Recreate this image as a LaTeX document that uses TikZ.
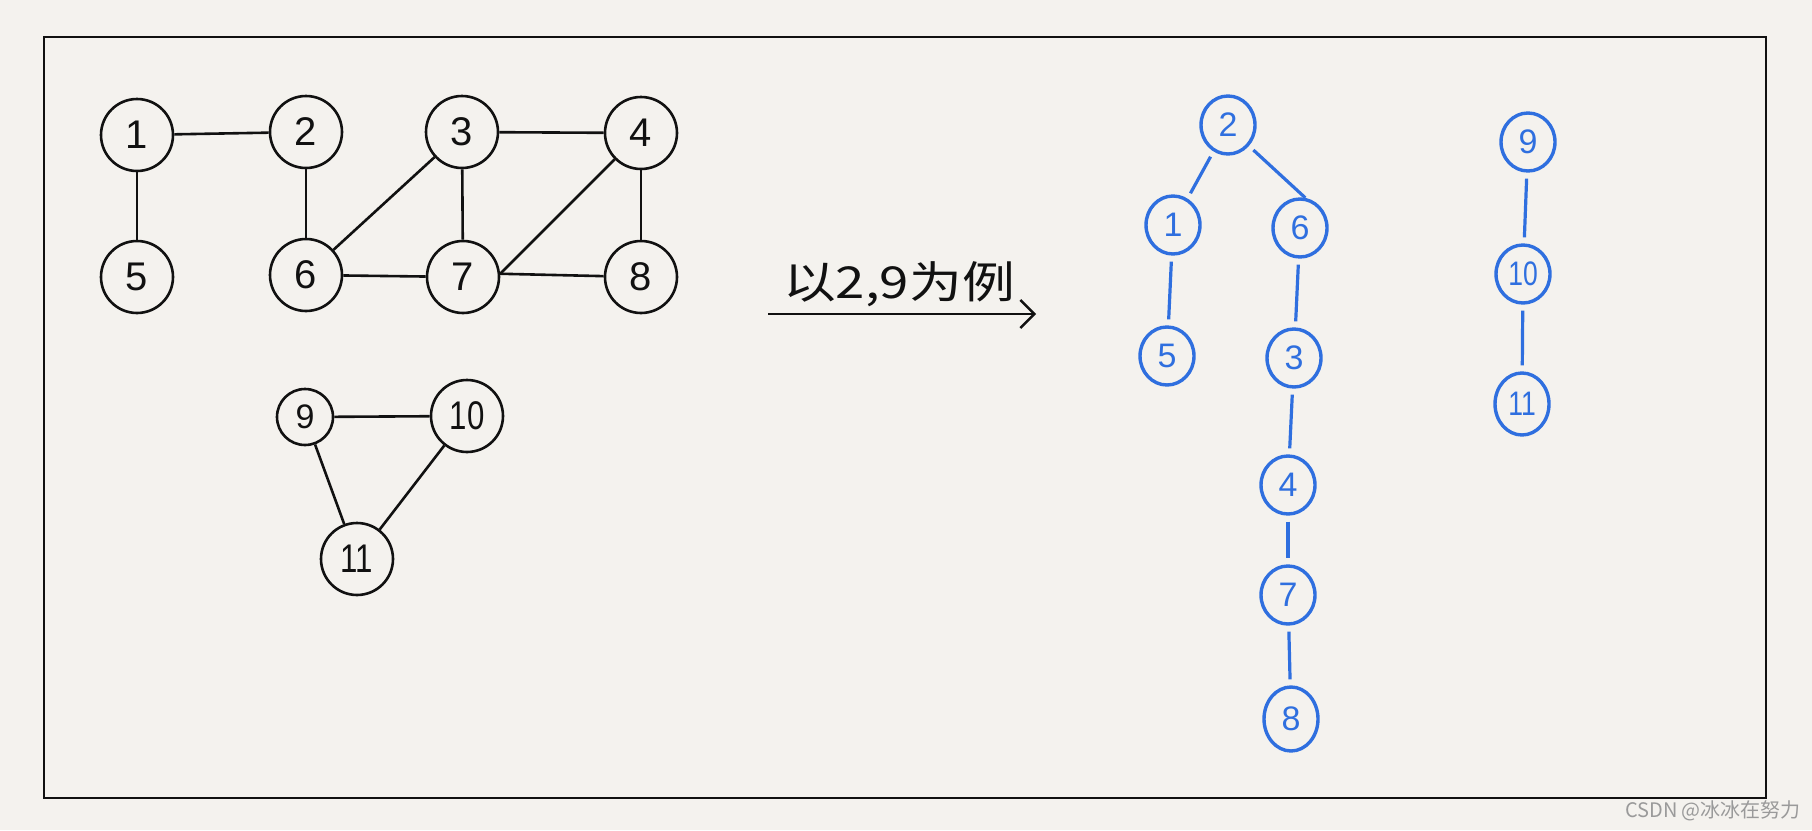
\documentclass[tikz,border=0pt]{standalone}
\usepackage{fontspec}
\setmainfont{Liberation Sans}
\newfontfamily\cjk{Noto Sans CJK SC}
\usetikzlibrary{arrows.meta,shapes.geometric}
\definecolor{paper}{HTML}{F4F2EE}
\definecolor{pen}{HTML}{111111}
\definecolor{bluepen}{HTML}{2F6FDF}
\definecolor{mark}{HTML}{9A9A9A}
\newcommand{\nar}[1]{\scalebox{0.78}[1]{#1}}
\tikzset{
  gnode/.style={circle,draw=pen,line width=2.6pt,minimum size=72pt,inner sep=0pt,font=\fontsize{40}{42}\selectfont,text=pen},
  gsmall/.style={gnode,minimum size=56pt,font=\fontsize{34}{36}\selectfont},
  gedge/.style={draw=pen,line width=2.6pt},
  bnode/.style={ellipse,draw=bluepen,line width=3.4pt,minimum width=54pt,minimum height=58pt,inner sep=0pt,font=\fontsize{34}{36}\selectfont,text=bluepen},
  bedge/.style={draw=bluepen,line width=3.2pt,shorten >=6pt,shorten <=6pt},
}
\begin{document}
\begin{tikzpicture}[x=1pt,y=-1pt]
\useasboundingbox (0,0) rectangle (1812,830);
\fill[paper] (0,0) rectangle (1812,830);
\draw[pen,line width=2.8pt] (44,37) rectangle (1766,798);
% original graph
\node[gnode] (n1) at (137,135) {1};
\node[gnode] (n2) at (306,132) {2};
\node[gnode] (n3) at (462,132) {3};
\node[gnode] (n4) at (641,133) {4};
\node[gnode] (n5) at (137,277) {5};
\node[gnode] (n6) at (306,275) {6};
\node[gnode] (n7) at (463,277) {7};
\node[gnode] (n8) at (641,277) {8};
\node[gsmall] (n9) at (305,417) {9};
\node[gnode] (n10) at (467,416) {\nar{10}};
\node[gnode] (n11) at (357,559) {\nar{11}};
\draw[gedge] (n1) -- (n2);
\draw[gedge] (n1) -- (n5);
\draw[gedge] (n2) -- (n6);
\draw[gedge] (n3) -- (n6);
\draw[gedge] (n3) -- (n7);
\draw[gedge] (n3) -- (n4);
\draw[gedge] (n6) -- (n7);
\draw[gedge] (n7.5) -- (n4);
\draw[gedge] (n7.5) -- (n8);
\draw[gedge] (n4) -- (n8);
\draw[gedge] (n9) -- (n10);
\draw[gedge] (n9) -- (n11);
\draw[gedge] (n10) -- (n11);
% label and arrow
\node[font=\cjk\fontsize{44}{46}\selectfont,text=pen,inner sep=0pt] (lbl) at (899,284) {\scalebox{1.2}[1]{以2,9为例}};
\coordinate (a0) at (768,314);
\coordinate (a1) at (1036,314);
\draw[pen,line width=2.6pt,-{Straight Barb[length=14pt,width=28pt,line width=2.4pt]}] (a0) -- (a1);
% spanning trees
\node[bnode] (b2) at (1228,125) {2};
\node[bnode] (b1) at (1173,225) {1};
\node[bnode] (b6) at (1300,228) {6};
\node[bnode] (b5) at (1167,356) {5};
\node[bnode] (b3) at (1294,358) {3};
\node[bnode] (b4) at (1288,485) {4};
\node[bnode] (b7) at (1288,595) {7};
\node[bnode,minimum height=64pt] (b8) at (1291,719) {8};
\node[bnode] (b9) at (1528,142) {9};
\node[bnode] (b10) at (1523,274) {\nar{10}};
\node[bnode,minimum height=62pt] (b11) at (1522,404) {\nar{11}};
\draw[bedge] (b2) -- (b1);
\draw[bedge,shorten >=0pt] (b2.-45) -- (b6.80);
\draw[bedge] (b1) -- (b5);
\draw[bedge] (b6) -- (b3);
\draw[bedge] (b3) -- (b4);
\draw[bedge] (b4) -- (b7);
\draw[bedge] (b7) -- (b8);
\draw[bedge] (b9) -- (b10);
\draw[bedge] (b10) -- (b11);
% watermark
\node[font=\cjk\fontsize{20}{22}\selectfont,text=mark,inner sep=0pt] (wm) at (1713,811) {CSDN @冰冰在努力};
\end{tikzpicture}
\end{document}
